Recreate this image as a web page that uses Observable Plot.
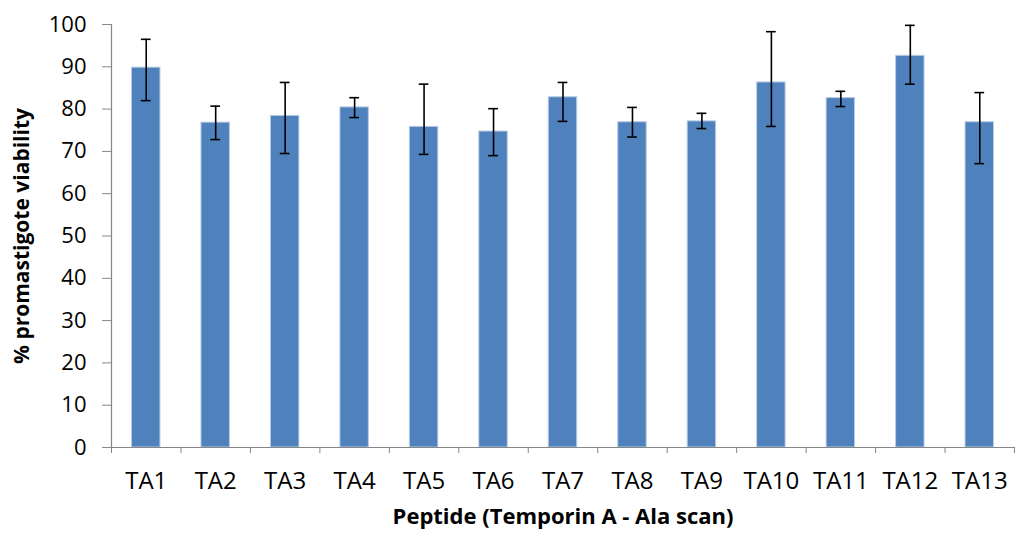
<!DOCTYPE html>
<html>
<head>
<meta charset="utf-8">
<script src="https://cdn.jsdelivr.net/npm/d3@7"></script>
<script src="https://cdn.jsdelivr.net/npm/@observablehq/plot@0.6"></script>
<style>
  html, body { margin: 0; padding: 0; background: #fff; }
  #chart { width: 1022px; height: 534px; }
</style>
</head>
<body>
<div id="chart"></div>
<script>
const peptides = ["TA1","TA2","TA3","TA4","TA5","TA6","TA7","TA8","TA9","TA10","TA11","TA12","TA13"];
const viability = [89.8, 76.8, 78.4, 80.4, 75.8, 74.7, 82.8, 76.9, 77.1, 86.3, 82.6, 92.6, 76.9];
const errLow  = [82.0, 72.8, 69.5, 78.0, 69.3, 69.0, 77.1, 73.4, 75.4, 75.9, 80.6, 85.9, 67.1];
const errHigh = [96.5, 80.7, 86.3, 82.7, 85.9, 80.1, 86.3, 80.4, 79.0, 98.3, 84.2, 99.8, 83.9];
const yTicks = [0, 10, 20, 30, 40, 50, 60, 70, 80, 90, 100];
const xTitle = "Peptide (Temporin A - Ala scan)";
const yTitle = "% promastigote viability";

const data = peptides.map((p, i) => ({
  name: p, i, v: viability[i], lo: errLow[i], hi: errHigh[i]
}));
const capHalf = 0.07;

const plot = Plot.plot({
  width: 1022,
  height: 534,
  marginLeft: 111,
  marginRight: 8,
  marginTop: 24,
  marginBottom: 87,
  style: { fontFamily: "'Open Sans', sans-serif", color: "#000", background: "#fff" },
  x: { type: "linear", domain: [0, peptides.length] },
  y: { domain: [0, 100] },
  marks: [
    Plot.rect(data, {
      x1: d => d.i, x2: d => d.i + 1, y1: 0, y2: "v",
      insetLeft: 20.5, insetRight: 20.5,
      fill: "#4F81BD", stroke: "#B9CDE5", strokeWidth: 1
    }),
    Plot.ruleX(data, { x: d => d.i + 0.5, y1: "lo", y2: "hi", stroke: "#000", strokeWidth: 1.6 }),
    Plot.ruleY(data, { y: "lo", x1: d => d.i + 0.5 - capHalf, x2: d => d.i + 0.5 + capHalf, stroke: "#000", strokeWidth: 1.6 }),
    Plot.ruleY(data, { y: "hi", x1: d => d.i + 0.5 - capHalf, x2: d => d.i + 0.5 + capHalf, stroke: "#000", strokeWidth: 1.6 }),
    Plot.ruleY([0], { stroke: "#868686", strokeWidth: 1.2 }),
    Plot.ruleX([0], { y1: 0, y2: 100, stroke: "#868686", strokeWidth: 1.2 }),
    Plot.axisY({
      ticks: yTicks, tickSize: 9, tickPadding: 16, fontSize: 22,
      stroke: "#868686", label: null
    }),
    Plot.axisX({
      ticks: d3.range(0, peptides.length + 1), tickSize: 6, tickFormat: () => "",
      stroke: "#868686", label: null
    }),
    Plot.axisX({
      ticks: peptides.map((p, i) => i + 0.5), tickSize: 0, tickPadding: 24,
      tickFormat: x => peptides[Math.floor(x)], fontSize: 24, label: null
    }),
    Plot.text([yTitle], {
      frameAnchor: "left", textAnchor: "middle", rotate: -90, dx: -89, text: d => d,
      fontSize: 21, fontWeight: "bold", fill: "#000"
    }),
    Plot.text([xTitle], {
      frameAnchor: "bottom", textAnchor: "middle", dy: 76, text: d => d,
      fontSize: 22, fontWeight: "bold", fill: "#000"
    })
  ]
});
document.getElementById("chart").appendChild(plot);
</script>
</body>
</html>
